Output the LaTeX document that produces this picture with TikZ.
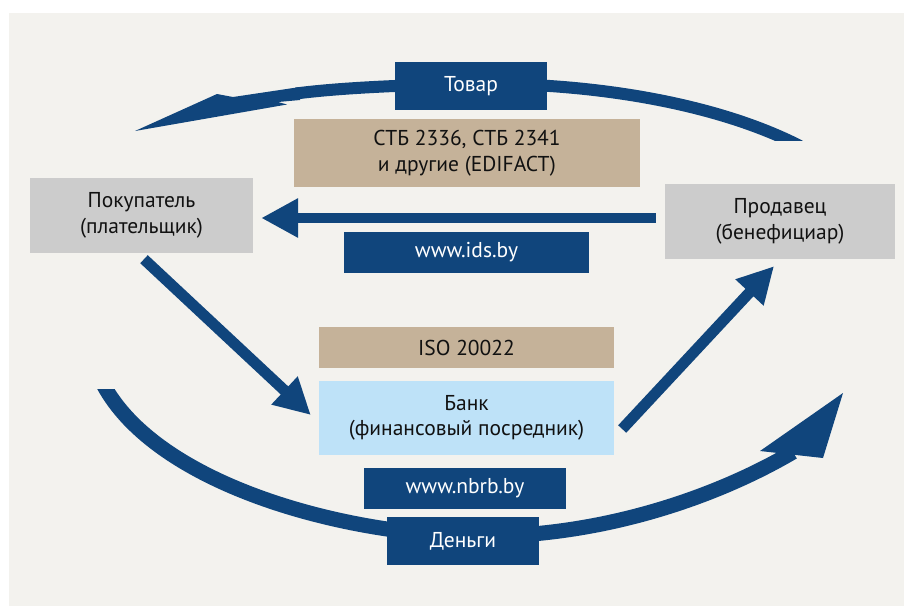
\documentclass[tikz,border=0pt]{standalone}
\usepackage{fontspec}
\setmainfont{PT Sans}
\usetikzlibrary{arrows.meta,positioning,calc}

\definecolor{navy}{HTML}{10457C}
\definecolor{sand}{HTML}{C5B299}
\definecolor{partygray}{HTML}{CCCCCC}
\definecolor{bankblue}{HTML}{BEE2F8}
\definecolor{paper}{HTML}{F3F2EE}
\definecolor{ink}{HTML}{111111}

\begin{document}
\begin{tikzpicture}[
  x=1pt, y=-1pt,
  font=\fontsize{21.5}{25.5}\selectfont,
  box/.style={inner sep=0pt, align=center, text=ink},
  party/.style={box, fill=partygray, minimum height=75pt},
  norm/.style={box, fill=sand, minimum height=41pt},
  site/.style={box, fill=navy, text=white, minimum height=41pt},
  flow/.style={draw=navy, line width=11pt, -{Triangle[length=36pt,width=36pt]}},
  loop/.style={draw=navy, line width=13pt}
]
\useasboundingbox (0,0) rectangle (904,606);
\fill[white] (0,0) rectangle (904,606);
\fill[paper] (9,13) rectangle (904,606);

% goods, upper loop
\coordinate (goodsend) at (135,131);
\begin{scope}
  \clip (0,0) rectangle (904,140);
  \draw[loop, line width=12pt] (800,146) .. controls (710,100) and (580,82) .. (470,84)
    .. controls (390,85) and (330,89) .. (296,93.5);
\end{scope}
\fill[navy] (goodsend) -- (217,94) -- (233,97) -- (300,87) -- (300,100)
  -- (278,102) -- (287,104.5) -- cycle;

% money, lower loop
\coordinate (moneyend) at (843,393);
\begin{scope}
  \clip (0,389) rectangle (904,606);
  \draw[loop, line width=15pt] (101,380) .. controls (150,480) and (330,532) .. (464,536)
    .. controls (600,540) and (720,495) .. (793,452);
\end{scope}
\fill[navy] (760,451) -- (moneyend) -- (823,458) -- cycle;

% parties and the bank
\node[party, minimum width=223pt] (buyer) at (141.5,215.5) {Покупатель\\(плательщик)};
\node[party, minimum width=230pt] (seller) at (780,221.5) {Продавец\\(бенефициар)};
\node[box, fill=bankblue, minimum width=295pt, minimum height=74pt] (bank) at (466.5,418)
  {Банк\\(финансовый посредник)};

% labels
\node[site, minimum width=152pt, minimum height=48pt] (goods) at (471,86) {Товар};
\node[norm, minimum width=346pt, minimum height=68pt] (edi) at (467,153)
  {СТБ 2336, СТБ 2341\\и другие (EDIFACT)};
\node[site, minimum width=245pt] (ids) at (466.5,252.5) {www.ids.by};
\node[norm, minimum width=295pt] (iso) at (466.5,347.5) {ISO 20022};
\node[site, minimum width=202pt] (nbrb) at (465,488.5) {www.nbrb.by};
\node[site, minimum width=152pt, minimum height=48pt] (money) at (463,541) {Деньги};

% document and payment flows
\draw[flow, line width=10pt, -{Triangle[length=37pt,width=37pt]}]
  ($(seller.west)+(-9,-3.5)$) -- ($(buyer.east)+(8,2.5)$);
\draw[flow] ($(buyer.south)+(2.5,6)$) -- ($(bank.west)+(-8,-3)$);
\draw[flow] ($(bank.east)+(8,11)$) -- ($(seller.south)+(-6,7)$);
\end{tikzpicture}
\end{document}
